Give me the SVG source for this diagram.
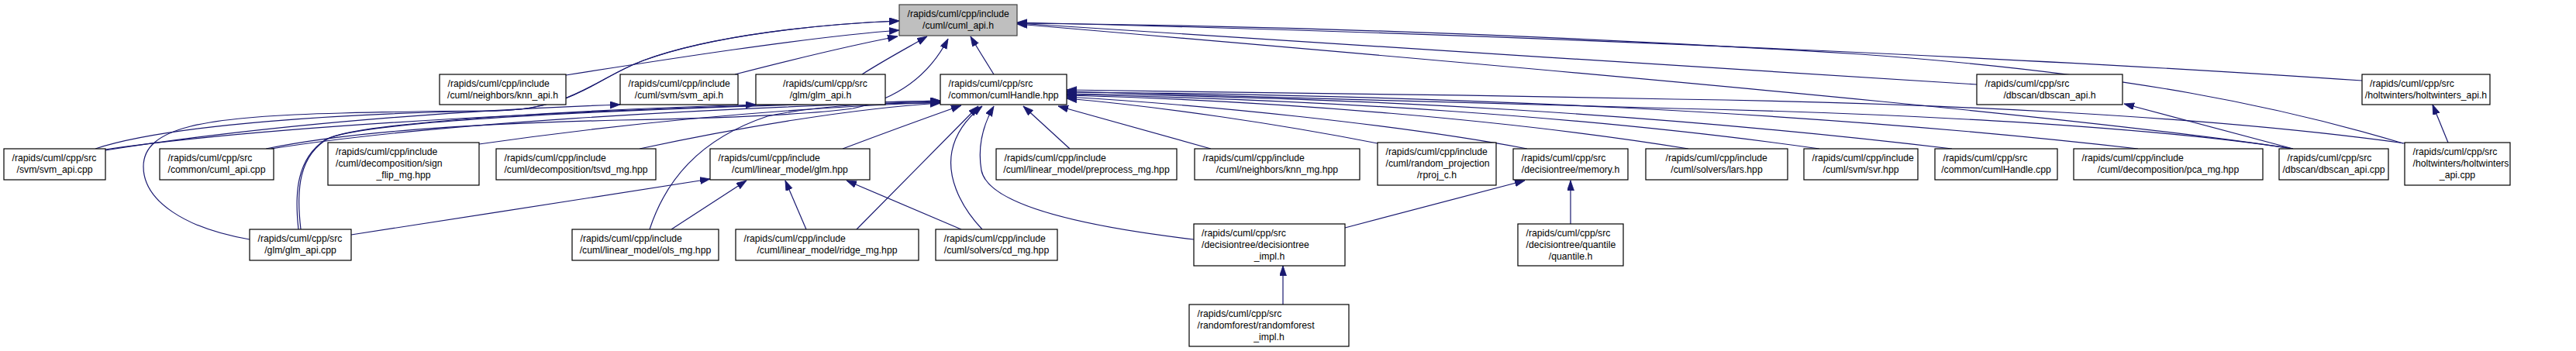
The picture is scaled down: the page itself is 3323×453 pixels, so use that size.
<svg xmlns="http://www.w3.org/2000/svg" width="3323" height="453" viewBox="0 0 3323 453">
<style>
.n rect{fill:#fff;stroke:#000;stroke-width:1.2}
.n.root rect{fill:#bfbfbf;stroke:#404040}
.n text{font-family:"Liberation Sans",Arial,Helvetica,sans-serif;font-size:12.25px;fill:#000}
.n text.c{text-anchor:middle}
#edges path{fill:none;stroke:#191970;stroke-width:1.2;marker-end:url(#ah)}
</style>
<defs>
<marker id="ah" markerUnits="userSpaceOnUse" markerWidth="14" markerHeight="10" refX="13" refY="4.5" orient="auto">
<path d="M0,0 L13,4.5 L0,9 z" fill="#191970" stroke="#191970" stroke-width="0.8"/>
</marker>
</defs>
<rect width="3323" height="453" fill="#fff"/>
<g id="edges">
<path d="M730,97 C850,78 1040,48 1160,39"/>
<path d="M948,96 C1010,80 1090,60 1158,47"/>
<path d="M1112,96 C1140,78 1170,62 1196,47"/>
<path d="M1282,96 C1272,80 1262,64 1252,47"/>
<path d="M123,192 C220,160 450,146 640,143 C740,141 770,100 830,78 C920,45 1060,31 1160,27"/>
<path d="M322,309 C240,295 185,260 185,215 C185,165 260,150 440,146 C560,143 620,143 640,143 C740,141 770,100 830,78 C920,45 1060,31 1160,27"/>
<path d="M343,192 C450,170 600,160 800,155 C950,152 1050,147 1100,140 C1170,125 1205,85 1223,50"/>
<path d="M2550,109 C2150,84 1700,55 1312,30"/>
<path d="M3047,104 C2700,80 2000,45 1312,29"/>
<path d="M3100,185 C2950,140 2750,95 2400,70 C2000,45 1650,33 1312,30"/>
<path d="M2958,192 C2750,160 2300,115 1312,31"/>
<path d="M135,193 C400,155 900,136 1213,130"/>
<path d="M350,192 C550,160 900,140 1213,131"/>
<path d="M618,186 C800,160 1000,140 1213,132"/>
<path d="M825,192 C950,165 1100,140 1213,133"/>
<path d="M385,296 C380,250 382,205 420,180 C470,155 800,140 1213,130"/>
<path d="M838,296 C858,235 900,180 990,150 C1060,135 1150,132 1213,133"/>
<path d="M1087,192 C1140,172 1195,152 1240,136"/>
<path d="M1105,296 C1150,250 1220,180 1262,137"/>
<path d="M1267,296 C1235,262 1222,225 1228,195 C1233,170 1248,152 1267,137"/>
<path d="M1540,309 C1380,290 1275,262 1266,220 C1260,185 1270,158 1282,137"/>
<path d="M1380,192 L1320,137"/>
<path d="M1562,192 L1365,137"/>
<path d="M1777,185 C1650,160 1500,138 1376,127"/>
<path d="M1970,192 C1800,160 1550,135 1376,125"/>
<path d="M2178,192 C1950,155 1650,130 1376,123"/>
<path d="M2347,192 C2050,150 1700,128 1376,122"/>
<path d="M2518,192 C2150,148 1750,125 1376,121"/>
<path d="M2758,192 C2350,145 1850,122 1376,119"/>
<path d="M2958,192 C2750,160 2400,145 2160,140 C1900,134 1600,122 1376,118"/>
<path d="M3102,185 C2850,150 2500,133 2160,128 C1900,123 1600,118 1376,116"/>
<path d="M136,194 C350,160 600,142 800,135"/>
<path d="M388,296 C382,245 385,200 425,178 C480,155 800,140 975,135"/>
<path d="M453,303 C600,280 800,250 916,231"/>
<path d="M866,296 L963,233"/>
<path d="M1040,296 L1013,233"/>
<path d="M1240,296 L1092,233"/>
<path d="M2958,192 L2740,134"/>
<path d="M3158,184 L3138,135"/>
<path d="M1735,294 L1967,233"/>
<path d="M2026,289 L2026,233"/>
<path d="M1655,393 L1655,343"/>
</g>
<g id="n0" class="n root"><rect x="1160" y="6" width="152" height="40"/><text x="1170.5" y="22">/rapids/cuml/cpp/include</text><text class="c" x="1236" y="37">/cuml/cuml_api.h</text></g>
<g id="n1" class="n"><rect x="567" y="96" width="163" height="39"/><text x="577.5" y="111.5">/rapids/cuml/cpp/include</text><text class="c" x="648.5" y="126.5">/cuml/neighbors/knn_api.h</text></g>
<g id="n2" class="n"><rect x="800" y="96" width="152" height="39"/><text x="810.5" y="111.5">/rapids/cuml/cpp/include</text><text class="c" x="876" y="126.5">/cuml/svm/svm_api.h</text></g>
<g id="n3" class="n"><rect x="975" y="96" width="167" height="39"/><text x="1010" y="111.5">/rapids/cuml/cpp/src</text><text class="c" x="1058.5" y="126.5">/glm/glm_api.h</text></g>
<g id="n4" class="n"><rect x="1213" y="96" width="163" height="39"/><text x="1223.5" y="111.5">/rapids/cuml/cpp/src</text><text class="c" x="1294.5" y="126.5">/common/cumlHandle.hpp</text></g>
<g id="n5" class="n"><rect x="2550" y="96" width="188" height="39"/><text x="2560.5" y="111.5">/rapids/cuml/cpp/src</text><text class="c" x="2644" y="126.5">/dbscan/dbscan_api.h</text></g>
<g id="n6" class="n"><rect x="3047" y="96" width="165" height="39"/><text x="3057" y="111.5">/rapids/cuml/cpp/src</text><text class="c" x="3129.5" y="126.5">/holtwinters/holtwinters_api.h</text></g>
<g id="n7" class="n"><rect x="5" y="192" width="131" height="40"/><text x="15.5" y="207.5">/rapids/cuml/cpp/src</text><text class="c" x="70.5" y="222.7">/svm/svm_api.cpp</text></g>
<g id="n8" class="n"><rect x="206" y="192" width="147" height="40"/><text x="216.5" y="207.5">/rapids/cuml/cpp/src</text><text class="c" x="279.5" y="222.7">/common/cuml_api.cpp</text></g>
<g id="n9" class="n"><rect x="423" y="184" width="195" height="55"/><text x="433" y="200">/rapids/cuml/cpp/include</text><text x="433" y="215.2">/cuml/decomposition/sign</text><text class="c" x="520.5" y="230.4">_flip_mg.hpp</text></g>
<g id="n10" class="n"><rect x="640" y="192" width="206" height="40"/><text x="650.5" y="207.5">/rapids/cuml/cpp/include</text><text class="c" x="743" y="222.7">/cuml/decomposition/tsvd_mg.hpp</text></g>
<g id="n11" class="n"><rect x="916" y="192" width="206" height="40"/><text x="926.5" y="207.5">/rapids/cuml/cpp/include</text><text class="c" x="1019" y="222.7">/cuml/linear_model/glm.hpp</text></g>
<g id="n12" class="n"><rect x="1285" y="192" width="233" height="40"/><text x="1295.5" y="207.5">/rapids/cuml/cpp/include</text><text class="c" x="1401.5" y="222.7">/cuml/linear_model/preprocess_mg.hpp</text></g>
<g id="n13" class="n"><rect x="1541" y="192" width="213" height="40"/><text x="1551.5" y="207.5">/rapids/cuml/cpp/include</text><text class="c" x="1647.5" y="222.7">/cuml/neighbors/knn_mg.hpp</text></g>
<g id="n14" class="n"><rect x="1777" y="184" width="153" height="55"/><text x="1787.5" y="200">/rapids/cuml/cpp/include</text><text x="1787.5" y="215.2">/cuml/random_projection</text><text class="c" x="1853.5" y="230.4">/rproj_c.h</text></g>
<g id="n15" class="n"><rect x="1952" y="192" width="148" height="40"/><text x="1962.5" y="207.5">/rapids/cuml/cpp/src</text><text class="c" x="2026" y="222.7">/decisiontree/memory.h</text></g>
<g id="n16" class="n"><rect x="2123" y="192" width="183" height="40"/><text x="2148.5" y="207.5">/rapids/cuml/cpp/include</text><text class="c" x="2214.5" y="222.7">/cuml/solvers/lars.hpp</text></g>
<g id="n17" class="n"><rect x="2327" y="192" width="147" height="40"/><text x="2337.5" y="207.5">/rapids/cuml/cpp/include</text><text class="c" x="2400.5" y="222.7">/cuml/svm/svr.hpp</text></g>
<g id="n18" class="n"><rect x="2496" y="192" width="158" height="40"/><text x="2506.5" y="207.5">/rapids/cuml/cpp/src</text><text class="c" x="2575" y="222.7">/common/cumlHandle.cpp</text></g>
<g id="n19" class="n"><rect x="2675" y="192" width="244" height="40"/><text x="2685.5" y="207.5">/rapids/cuml/cpp/include</text><text class="c" x="2797" y="222.7">/cuml/decomposition/pca_mg.hpp</text></g>
<g id="n20" class="n"><rect x="2940" y="192" width="141" height="40"/><text x="2950.5" y="207.5">/rapids/cuml/cpp/src</text><text class="c" x="3010.5" y="222.7">/dbscan/dbscan_api.cpp</text></g>
<g id="n21" class="n"><rect x="3102" y="184" width="136" height="55"/><text x="3112.5" y="200">/rapids/cuml/cpp/src</text><text x="3112.5" y="215.2">/holtwinters/holtwinters</text><text class="c" x="3170" y="230.4">_api.cpp</text></g>
<g id="n22" class="n"><rect x="322" y="296" width="131" height="40"/><text x="332.5" y="311.5">/rapids/cuml/cpp/src</text><text class="c" x="387.5" y="326.7">/glm/glm_api.cpp</text></g>
<g id="n23" class="n"><rect x="738" y="296" width="189" height="40"/><text x="748.5" y="311.5">/rapids/cuml/cpp/include</text><text class="c" x="832.5" y="326.7">/cuml/linear_model/ols_mg.hpp</text></g>
<g id="n24" class="n"><rect x="949" y="296" width="236" height="40"/><text x="959.5" y="311.5">/rapids/cuml/cpp/include</text><text class="c" x="1067" y="326.7">/cuml/linear_model/ridge_mg.hpp</text></g>
<g id="n25" class="n"><rect x="1207" y="296" width="157" height="40"/><text x="1217.5" y="311.5">/rapids/cuml/cpp/include</text><text class="c" x="1285.5" y="326.7">/cuml/solvers/cd_mg.hpp</text></g>
<g id="n26" class="n"><rect x="1540" y="289" width="195" height="54"/><text x="1550" y="304.5">/rapids/cuml/cpp/src</text><text x="1550" y="319.7">/decisiontree/decisiontree</text><text class="c" x="1637.5" y="334.9">_impl.h</text></g>
<g id="n27" class="n"><rect x="1958" y="289" width="136" height="54"/><text x="1968.5" y="304.5">/rapids/cuml/cpp/src</text><text x="1968.5" y="319.7">/decisiontree/quantile</text><text class="c" x="2026" y="334.9">/quantile.h</text></g>
<g id="n28" class="n"><rect x="1534" y="393" width="206" height="54"/><text x="1544.5" y="408.5">/rapids/cuml/cpp/src</text><text x="1544.5" y="423.7">/randomforest/randomforest</text><text class="c" x="1637" y="438.9">_impl.h</text></g>
</svg>
